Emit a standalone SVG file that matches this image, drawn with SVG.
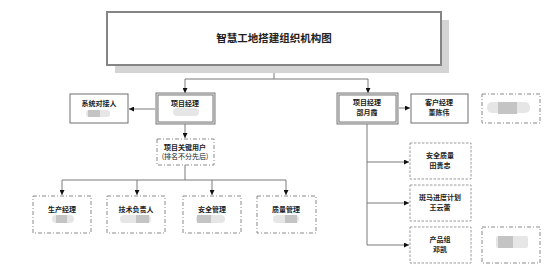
<svg xmlns="http://www.w3.org/2000/svg" width="558" height="276" viewBox="0 0 558 276">
<style>
text{font-family:"Noto Sans CJK SC","Liberation Sans",sans-serif;fill:#222;text-anchor:middle}
.t{font-size:7px;font-weight:bold}
.n{font-size:7px}
.title{font-size:10.5px;font-weight:bold}
.solid{fill:#fff;stroke:#6e6e6e;stroke-width:1}
.dbl{fill:#fff;stroke:#7a7a7a;stroke-width:3}
.dbli{fill:none;stroke:#fff;stroke-width:0.8}
.dd{fill:#fff;stroke:#8a8a8a;stroke-width:1;stroke-dasharray:4 2 1 2}
.ds{fill:#fff;stroke:#9a9a9a;stroke-width:1;stroke-dasharray:2.5 1.5}
.blob{fill:#e6e6e6}
.blobd{fill:#c4c4c4}
.c{fill:none;stroke:#7a7a7a;stroke-width:1}
</style>
<defs>
<marker id="ar" viewBox="0 0 6 6" refX="6" refY="3" markerWidth="5" markerHeight="5" orient="auto" markerUnits="userSpaceOnUse">
<path d="M0,0 L6,3 L0,6 Z" fill="#111"/>
</marker>
</defs>
<rect width="558" height="276" fill="#fff"/>

<g id="connectors">
<path class="c" d="M274,65 V79 M185,79 H368"/>
<path class="c" d="M185,79 V93" marker-end="url(#ar)"/>
<path class="c" d="M368,79 V93" marker-end="url(#ar)"/>
<path class="c" d="M155,109 H129" marker-end="url(#ar)"/>
<path class="c" d="M185,124 V138" marker-end="url(#ar)"/>
<path class="c" d="M185,165 V180 M62,180 H286"/>
<path class="c" d="M62,180 V195" marker-end="url(#ar)"/>
<path class="c" d="M137,180 V195" marker-end="url(#ar)"/>
<path class="c" d="M212,180 V195" marker-end="url(#ar)"/>
<path class="c" d="M286,180 V195" marker-end="url(#ar)"/>
<path class="c" d="M399,108 H410" marker-end="url(#ar)"/>
<path class="c" d="M367,124 V245"/>
<path class="c" d="M367,162 H409" marker-end="url(#ar)"/>
<path class="c" d="M367,203 H409" marker-end="url(#ar)"/>
<path class="c" d="M367,245 H409" marker-end="url(#ar)"/>
</g>

<g id="title">
<rect x="115" y="20" width="334" height="53" fill="#d4d4d4"/>
<rect x="107" y="12" width="334" height="53" fill="#fff" stroke="#858585" stroke-width="2"/>
<text class="title" x="274" y="42">智慧工地搭建组织机构图</text>
</g>

<g id="system-contact">
<rect class="solid" x="70" y="94" width="58" height="29"/>
<text class="t" x="99" y="106">系统对接人</text>
<rect class="blob" x="86" y="110" width="24" height="7" rx="3"/>
<rect class="blobd" x="88" y="110" width="12" height="7"/>
</g>

<g id="pm-left">
<rect class="dbl" x="157" y="94" width="57" height="29"/>
<rect class="dbli" x="157" y="94" width="57" height="29"/>
<text class="t" x="185" y="106">项目经理</text>
<rect class="blob" x="173" y="108" width="26" height="8" rx="4"/>
</g>

<g id="key-users">
<rect class="dd" x="157" y="139" width="57" height="26"/>
<text class="t" x="185" y="150">项目关键用户</text>
<text class="n" x="185" y="159">(排名不分先后)</text>
</g>

<g id="production">
<rect class="dd" x="33" y="196" width="58" height="37"/>
<text class="t" x="62" y="212">生产经理</text>
<rect class="blob" x="52" y="215" width="22" height="8" rx="4"/>
<rect class="blobd" x="56" y="215" width="11" height="8"/>
</g>

<g id="tech">
<rect class="dd" x="107" y="196" width="58" height="37"/>
<text class="t" x="136" y="212">技术负责人</text>
<rect class="blob" x="120" y="215" width="31" height="8" rx="4"/>
<rect class="blobd" x="136" y="215" width="13" height="8"/>
</g>

<g id="safety">
<rect class="dd" x="183" y="196" width="58" height="37"/>
<text class="t" x="212" y="212">安全管理</text>
<rect class="blob" x="196" y="215" width="29" height="8" rx="4"/>
<rect class="blobd" x="197" y="215" width="14" height="8"/>
</g>

<g id="quality">
<rect class="dd" x="257" y="196" width="59" height="37"/>
<text class="t" x="286" y="212">质量管理</text>
<rect class="blob" x="273" y="215" width="26" height="8" rx="4"/>
<rect class="blobd" x="285" y="215" width="12" height="8"/>
</g>

<g id="pm-right">
<rect class="dbl" x="338" y="94" width="59" height="29"/>
<rect class="dbli" x="338" y="94" width="59" height="29"/>
<text class="t" x="367" y="105">项目经理</text>
<text class="t" x="367" y="115">邵月霞</text>
</g>

<g id="account-manager">
<rect class="solid" x="411" y="94" width="57" height="29"/>
<text class="t" x="439" y="105">客户经理</text>
<text class="t" x="439" y="115">董陈伟</text>
</g>

<g id="redacted-top">
<rect class="dd" x="482" y="94" width="58" height="29"/>
<rect class="blob" x="487" y="102" width="43" height="11" rx="5"/>
<rect class="blobd" x="498" y="102" width="19" height="12"/>
</g>

<g id="safety-quality">
<rect class="ds" x="410" y="143" width="61" height="36"/>
<text class="t" x="440" y="158">安全质量</text>
<text class="t" x="440" y="168">田贵忠</text>
</g>

<g id="schedule">
<rect class="ds" x="410" y="185" width="61" height="36"/>
<text class="t" x="440" y="200">斑马进度计划</text>
<text class="t" x="440" y="210">王云蕾</text>
</g>

<g id="product">
<rect class="ds" x="410" y="227" width="61" height="36"/>
<text class="t" x="440" y="242">产品组</text>
<text class="t" x="440" y="252">邓凯</text>
</g>

<g id="redacted-bottom">
<rect class="dd" x="482" y="227" width="58" height="36"/>
<rect class="blob" x="496" y="236" width="32" height="12" rx="2"/>
<rect class="blobd" x="498" y="236" width="15" height="12"/>
</g>
</svg>
